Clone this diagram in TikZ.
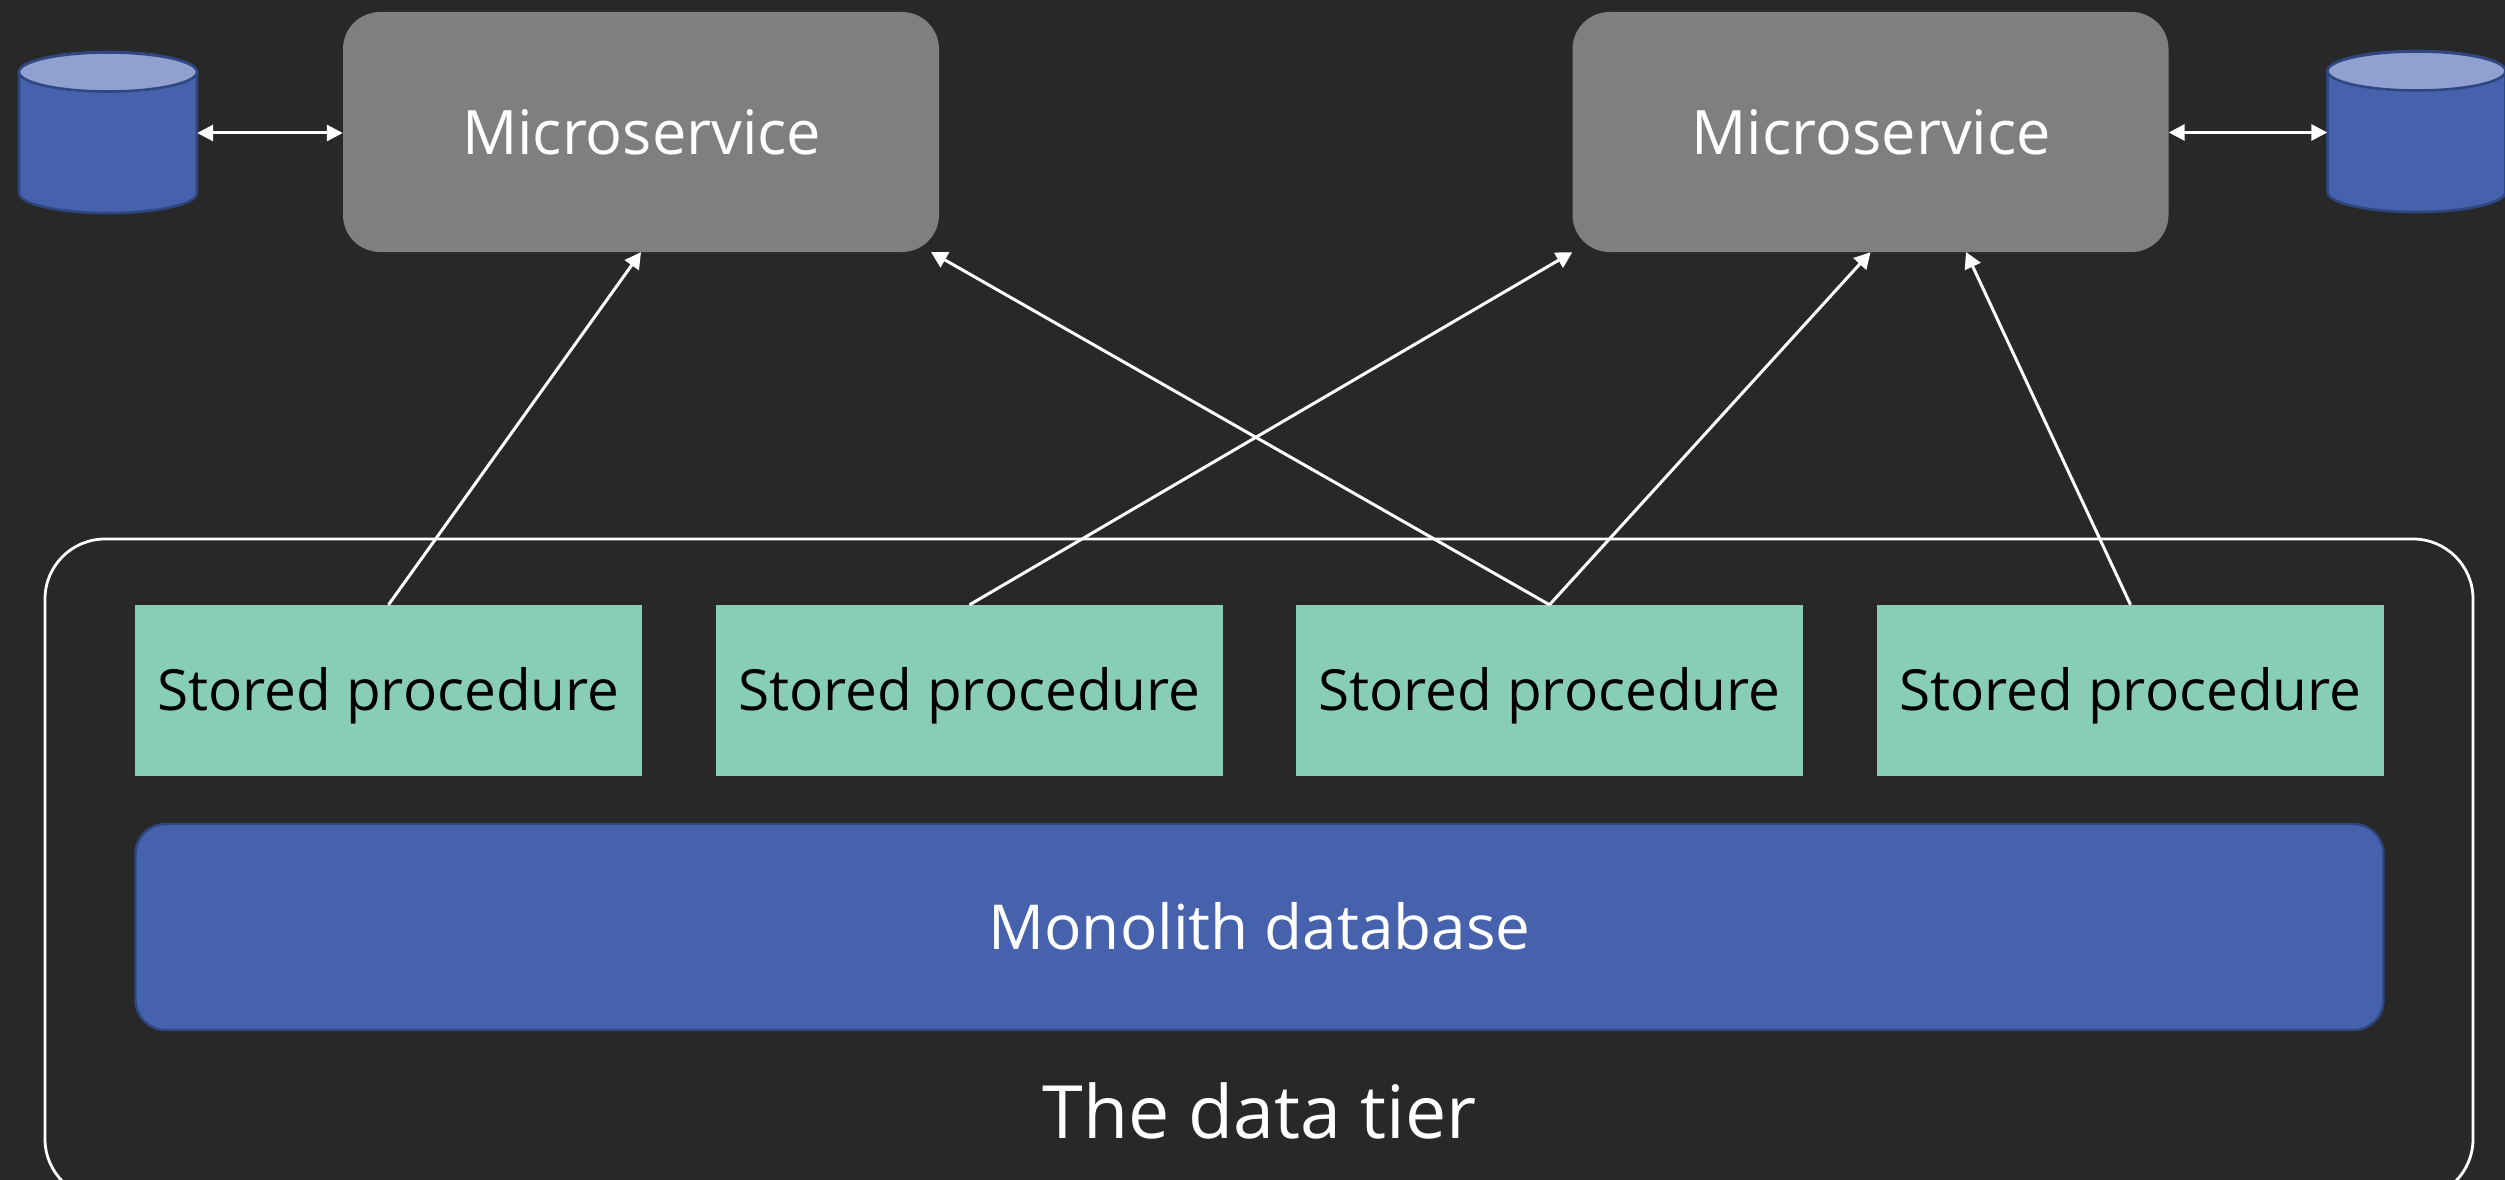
\documentclass[tikz,border=0pt]{standalone}
\usepackage{fontspec}
\setmainfont{Open Sans}
\usetikzlibrary{arrows.meta}
\definecolor{bgc}{HTML}{282828}
\definecolor{greyc}{HTML}{7F7F7F}
\definecolor{tealc}{HTML}{88CDB7}
\definecolor{bluec}{HTML}{4762AC}
\definecolor{blued}{HTML}{2F4780}
\definecolor{bluel}{HTML}{91A0D1}
\newcommand{\dbshape}[1]{%
  \begin{scope}[shift={(#1.center)}]
    \draw[draw=blued,line width=2.6pt,fill=bluec] (-89,-61) -- (-89,60) arc[start angle=180,end angle=0,x radius=89,y radius=20] -- (89,-61) arc[start angle=0,end angle=-180,x radius=89,y radius=20] -- cycle;
    \draw[draw=blued,line width=2.6pt,fill=bluel] (0,-61) ellipse[x radius=89,y radius=19.5];
  \end{scope}}
\tikzset{
  msbox/.style={rounded corners=37pt,fill=greyc,minimum width=596pt,minimum height=240pt,inner sep=0pt,text=white,text height=54.5pt,text depth=10pt,font=\fontsize{61.3}{70}\selectfont},
  spbox/.style={fill=tealc,minimum width=507pt,minimum height=171pt,inner sep=0pt,text=black,text height=50pt,text depth=11pt,font=\fontsize{56.7}{66}\selectfont},
  dbanchor/.style={minimum width=178pt,minimum height=160pt,inner sep=0pt},
  conn/.style={draw=white,line width=3pt,-{Triangle[length=16pt,width=17pt]}},
  biconn/.style={draw=white,line width=3pt,{Triangle[length=16pt,width=16pt]}-{Triangle[length=16pt,width=16pt]}}
}
\begin{document}
\begin{tikzpicture}[x=1pt,y=-1pt]
\useasboundingbox (0,0) rectangle (2505,1180);
\fill[bgc] (0,0) rectangle (2505,1180);
\node[draw=white,line width=2.8pt,rounded corners=60pt,minimum width=2428pt,minimum height=660pt,inner sep=0pt] (tier) at (1259,869) {};
\node[msbox] (ms1) at (641,132) {\hspace{1.5pt}Microservice};
\node[msbox] (ms2) at (1870.5,132) {\hspace{1.5pt}Microservice};
\node[dbanchor] (db1) at (108,133) {};
\node[dbanchor] (db2) at (2416.5,132) {};
\dbshape{db1}
\dbshape{db2}
\node[spbox] (sp1) at (388.5,690.5) {Stored procedure};
\node[spbox] (sp2) at (969.5,690.5) {Stored procedure};
\node[spbox] (sp3) at (1549.5,690.5) {Stored procedure};
\node[spbox] (sp4) at (2130.5,690.5) {Stored procedure};
\node[rounded corners=30pt,fill=bluec,draw=blued,line width=2.4pt,minimum width=2248pt,minimum height=206pt,inner sep=0pt,text=white,text height=54pt,text depth=10pt,font=\fontsize{62}{70}\selectfont] (mono) at (1259.5,927) {Monolith database};
\node[text=white,text height=62pt,text depth=10pt,font=\fontsize{73.5}{84}\selectfont,inner sep=0pt] (lbl) at (1259.5,1112) {The data tier};
\coordinate (ms1r) at (931,252);
\coordinate (ms2r) at (1966,252);
\draw[conn] (sp1.north) -- (ms1.south);
\draw[conn] (sp2.north) -- (ms2.south west);
\draw[conn] (sp3.north) -- (ms1r);
\draw[conn] (sp3.north) -- (ms2.south);
\draw[conn] (sp4.north) -- (ms2r);
\draw[biconn] (db1.east |- 0,133) -- (ms1.west |- 0,133);
\draw[biconn] (ms2.east |- 0,132.5) -- (db2.west |- 0,132.5);
\end{tikzpicture}
\end{document}
